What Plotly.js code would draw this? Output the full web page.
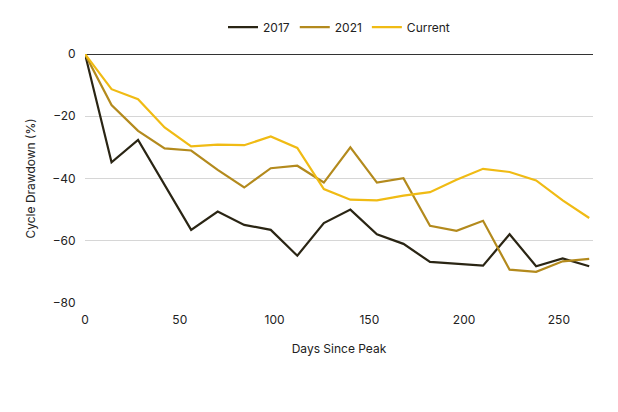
<!DOCTYPE html>
<html><head><meta charset="utf-8">
<script src="https://cdn.plot.ly/plotly-3.0.1.min.js"></script>
<style>body{margin:0;background:#fff}#c{width:618px;height:412px}</style>
</head><body><div id="c"></div>
<script>
const days = [0,14,28,42,56,70,84,98,112,126,140,154,168,182,196,210,224,238,252,266];
const y2017 = [0,-34.8,-27.6,-42,-56.5,-50.6,-54.9,-56.5,-64.8,-54.3,-50,-57.9,-61,-66.8,-67.4,-68,-57.9,-68.2,-65.7,-68.2];
const y2021 = [0,-16.4,-24.7,-30.3,-31,-37.2,-42.9,-36.7,-35.9,-41.3,-30,-41.3,-39.9,-55.2,-56.8,-53.6,-69.3,-70,-66.6,-65.8];
const yCurrent = [0,-11.3,-14.5,-23.6,-29.7,-29.1,-29.3,-26.5,-30.2,-43.4,-46.8,-47,-45.5,-44.4,-40.4,-36.9,-37.9,-40.6,-47,-52.7];
const mk=(n,y,c)=>({x:days,y:y,name:n,type:'scatter',mode:'lines',line:{color:c,width:2.2}});
Plotly.newPlot('c',[mk('2017',y2017,'#2a2514'),mk('2021',y2021,'#b38a1d'),mk('Current',yCurrent,'#f0bb14')],{
  width:618,height:412,margin:{l:85,r:25,t:54,b:109},
  paper_bgcolor:'#fff',plot_bgcolor:'#fff',
  font:{family:'Inter, Roboto, sans-serif',size:12,color:'#222'},
  showlegend:true,
  legend:{orientation:'h',x:0.5,xanchor:'center',yref:'container',y:0.934,yanchor:'middle',font:{size:12}},
  xaxis:{range:[0,268],tickvals:[0,50,100,150,200,250],showgrid:false,zeroline:false,showline:false,
    ticks:'outside',ticklen:6,tickcolor:'rgba(0,0,0,0)',automargin:false,
    title:{text:'Days Since Peak',font:{size:12},standoff:18}},
  yaxis:{range:[-80,0],tickvals:[0,-20,-40,-60,-80],gridcolor:'#d6d6d6',zeroline:true,zerolinecolor:'#333',zerolinewidth:1.2,
    ticks:'outside',ticklen:6,tickcolor:'rgba(0,0,0,0)',automargin:false,
    title:{text:'Cycle Drawdown (%)',font:{size:12},standoff:14}},
  annotations:[{text:'Source: TradingView, Binance Research, as of June 30, 2026',xref:'paper',yref:'container',x:-0.137,y:0.03,xanchor:'left',yanchor:'middle',showarrow:false,font:{size:13,color:'#9a9a9a'}}]
},{displayModeBar:false});
</script></body></html>
